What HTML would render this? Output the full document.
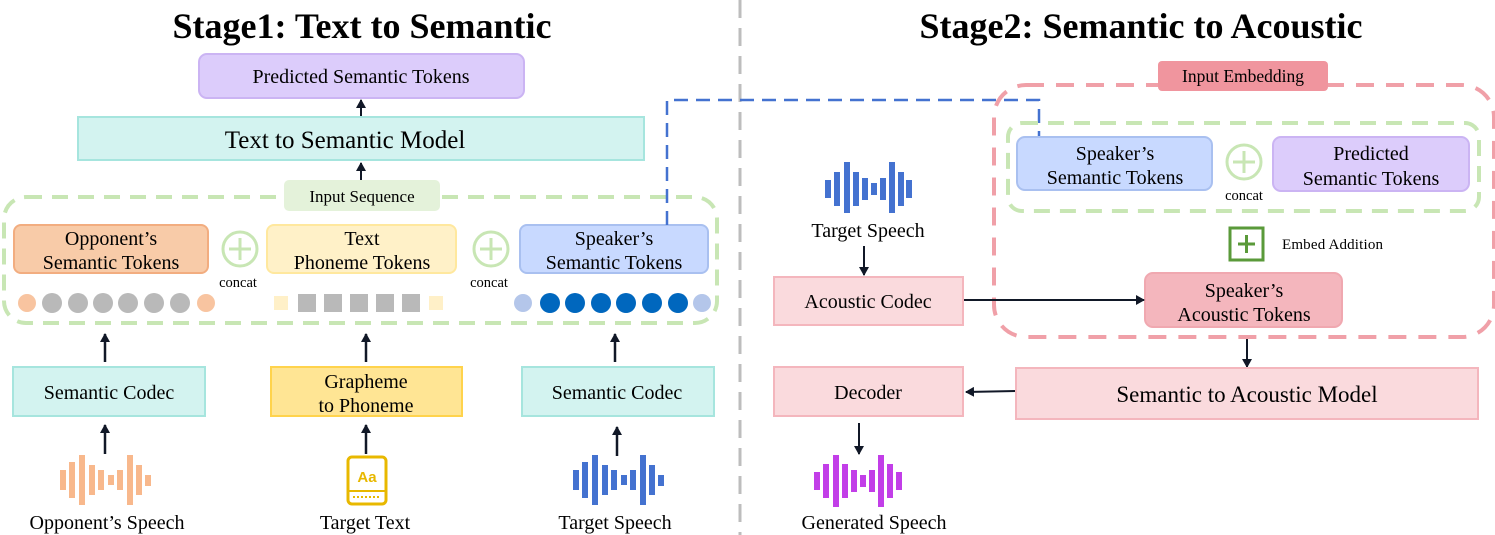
<!DOCTYPE html>
<html><head><meta charset="utf-8"><style>
html,body{margin:0;padding:0;background:#fff;}
svg{display:block;font-family:"Liberation Serif",serif;}
</style></head><body>
<svg width="1495" height="535" viewBox="0 0 1495 535" xmlns="http://www.w3.org/2000/svg">
<defs>
<marker id="ah" markerWidth="10" markerHeight="10" refX="8" refY="5" orient="auto" markerUnits="userSpaceOnUse">
<path d="M0,0 L9,5 L0,10 Z" fill="#111827"/></marker>
</defs>
<line x1="740" y1="0" x2="740" y2="535" stroke="#bdbdbd" stroke-width="3" stroke-dasharray="18,10"/>
<text x="362" y="38" font-size="36" font-weight="bold" text-anchor="middle">Stage1: Text to Semantic</text>
<text x="1141" y="38" font-size="36" font-weight="bold" text-anchor="middle">Stage2: Semantic to Acoustic</text>

<rect x="199" y="54" width="325" height="44" rx="8" fill="#dcccfb" stroke="#cbb4f3" stroke-width="2"/>
<text x="361" y="83" font-size="20" text-anchor="middle">Predicted Semantic Tokens</text>
<line x1="361" y1="116" x2="361" y2="100" stroke="#111827" stroke-width="2" marker-end="url(#ah)"/>
<rect x="78" y="117" width="566" height="43" fill="#d3f3f0" stroke="#a6e5de" stroke-width="2"/>
<text x="345" y="148" font-size="25" text-anchor="middle">Text to Semantic Model</text>
<line x1="361" y1="180" x2="361" y2="163" stroke="#111827" stroke-width="2" marker-end="url(#ah)"/>

<rect x="4" y="197" width="713" height="126" rx="22" fill="none" stroke="#c8e6b4" stroke-width="4" stroke-dasharray="16,10"/>
<rect x="284" y="180" width="156" height="31" rx="5" fill="#e4f2da"/>
<text x="362" y="202" font-size="17" text-anchor="middle">Input Sequence</text>

<rect x="14" y="225" width="194" height="48" rx="7" fill="#f8cba8" stroke="#f2ad80" stroke-width="2"/>
<text x="111" y="245" font-size="20" text-anchor="middle">Opponent’s</text>
<text x="111" y="269" font-size="20" text-anchor="middle">Semantic Tokens</text>
<rect x="267" y="225" width="189" height="48" rx="7" fill="#fff1c8" stroke="#ffe89e" stroke-width="2"/>
<text x="362" y="245" font-size="20" text-anchor="middle">Text</text>
<text x="362" y="269" font-size="20" text-anchor="middle">Phoneme Tokens</text>
<rect x="520" y="225" width="188" height="48" rx="7" fill="#c8d9ff" stroke="#a9c0f0" stroke-width="2"/>
<text x="614" y="245" font-size="20" text-anchor="middle">Speaker’s</text>
<text x="614" y="269" font-size="20" text-anchor="middle">Semantic Tokens</text>
<g stroke="#c8e6b4" stroke-width="3" fill="none">
<circle cx="240" cy="249" r="17"/><line x1="229" y1="249" x2="251" y2="249"/><line x1="240" y1="238" x2="240" y2="260"/>
<circle cx="491" cy="249" r="17"/><line x1="480" y1="249" x2="502" y2="249"/><line x1="491" y1="238" x2="491" y2="260"/>
</g>
<text x="238" y="287" font-size="14.5" text-anchor="middle">concat</text>
<text x="489" y="287" font-size="14.5" text-anchor="middle">concat</text>
<circle cx="27" cy="303" r="9" fill="#f8c4a0"/>
<g fill="#b9b9b9"><circle cx="52" cy="303" r="10"/><circle cx="78" cy="303" r="10"/><circle cx="103" cy="303" r="10"/><circle cx="128" cy="303" r="10"/><circle cx="154" cy="303" r="10"/><circle cx="180" cy="303" r="10"/></g>
<circle cx="206" cy="303" r="9" fill="#f8c4a0"/>
<rect x="274" y="296" width="14" height="14" fill="#fff0c8"/>
<g fill="#b9b9b9"><rect x="298" y="294" width="18" height="18"/><rect x="324" y="294" width="18" height="18"/><rect x="350" y="294" width="18" height="18"/><rect x="376" y="294" width="18" height="18"/><rect x="402" y="294" width="18" height="18"/></g>
<rect x="429" y="296" width="14" height="14" fill="#fff0c8"/>
<circle cx="523" cy="303" r="9" fill="#b4c6ea"/>
<g fill="#0067be"><circle cx="550" cy="303" r="10"/><circle cx="575" cy="303" r="10"/><circle cx="601" cy="303" r="10"/><circle cx="626" cy="303" r="10"/><circle cx="652" cy="303" r="10"/><circle cx="678" cy="303" r="10"/></g>
<circle cx="702" cy="303" r="9" fill="#b4c6ea"/>

<g stroke="#111827" stroke-width="2.5">
<line x1="105" y1="362" x2="105" y2="334" marker-end="url(#ah)"/>
<line x1="366" y1="362" x2="366" y2="334" marker-end="url(#ah)"/>
<line x1="615" y1="362" x2="615" y2="334" marker-end="url(#ah)"/>
<line x1="105" y1="454" x2="105" y2="425" marker-end="url(#ah)"/>
<line x1="366" y1="454" x2="366" y2="425" marker-end="url(#ah)"/>
<line x1="617" y1="456" x2="617" y2="427" marker-end="url(#ah)"/>
</g>
<rect x="13" y="367" width="192" height="49" fill="#d3f3f0" stroke="#a6e5de" stroke-width="2"/>
<text x="109" y="399" font-size="20" text-anchor="middle">Semantic Codec</text>
<rect x="271" y="367" width="191" height="49" fill="#ffe594" stroke="#ffd34c" stroke-width="2"/>
<text x="366" y="388" font-size="20" text-anchor="middle">Grapheme</text>
<text x="366" y="412" font-size="20" text-anchor="middle">to Phoneme</text>
<rect x="522" y="367" width="192" height="49" fill="#d3f3f0" stroke="#a6e5de" stroke-width="2"/>
<text x="617" y="399" font-size="20" text-anchor="middle">Semantic Codec</text>

<g fill="#f8b88c">
<rect x="60" y="470" width="6" height="20"/><rect x="69" y="462" width="6" height="36"/><rect x="79" y="455" width="6" height="50"/><rect x="89" y="465" width="6" height="30"/><rect x="98" y="470" width="6" height="20"/><rect x="108" y="475" width="6" height="10"/><rect x="117" y="470" width="6" height="20"/><rect x="127" y="455" width="6" height="50"/><rect x="136" y="465" width="6" height="30"/><rect x="145" y="475" width="6" height="11"/>
</g>
<g fill="#4472d0">
<rect x="573" y="470" width="6" height="20"/><rect x="582" y="462" width="6" height="36"/><rect x="592" y="455" width="6" height="50"/><rect x="602" y="465" width="6" height="30"/><rect x="611" y="470" width="6" height="20"/><rect x="621" y="475" width="6" height="10"/><rect x="630" y="470" width="6" height="20"/><rect x="640" y="455" width="6" height="50"/><rect x="649" y="465" width="6" height="30"/><rect x="658" y="475" width="6" height="11"/>
</g>
<rect x="348" y="457" width="38" height="47" rx="4" fill="none" stroke="#e8b800" stroke-width="3"/>
<line x1="348" y1="491" x2="386" y2="491" stroke="#e8b800" stroke-width="2"/>
<text x="367" y="482" font-size="15" font-family="Liberation Sans, sans-serif" fill="#e8b800" text-anchor="middle" font-weight="bold">Aa</text>
<line x1="353" y1="497" x2="381" y2="497" stroke="#e8b800" stroke-width="2" stroke-dasharray="2,2"/>

<text x="107" y="529" font-size="20" text-anchor="middle">Opponent’s Speech</text>
<text x="365" y="529" font-size="20" text-anchor="middle">Target Text</text>
<text x="615" y="529" font-size="20" text-anchor="middle">Target Speech</text>

<polyline points="667,225 667,100 1039,100 1039,137" fill="none" stroke="#4472d0" stroke-width="2.5" stroke-dasharray="14,8"/>

<rect x="994" y="85" width="500" height="252" rx="32" fill="none" stroke="#f0a0a8" stroke-width="4" stroke-dasharray="18,12"/>
<rect x="1158" y="61" width="170" height="30" rx="4" fill="#f0959e"/>
<text x="1243" y="82" font-size="17.5" text-anchor="middle">Input Embedding</text>
<rect x="1008" y="123" width="471" height="88" rx="14" fill="none" stroke="#c8e6b4" stroke-width="4" stroke-dasharray="16,10"/>
<rect x="1017" y="137" width="195" height="53" rx="8" fill="#c8d9ff" stroke="#a9c0f0" stroke-width="2"/>
<text x="1115" y="160" font-size="20" text-anchor="middle">Speaker’s</text>
<text x="1115" y="184" font-size="20" text-anchor="middle">Semantic Tokens</text>
<g stroke="#c8e6b4" stroke-width="3" fill="none">
<circle cx="1244" cy="162" r="17"/><line x1="1233" y1="162" x2="1255" y2="162"/><line x1="1244" y1="151" x2="1244" y2="173"/>
</g>
<text x="1244" y="200" font-size="14.5" text-anchor="middle">concat</text>
<rect x="1273" y="137" width="196" height="54" rx="8" fill="#dcccfb" stroke="#cbb4f3" stroke-width="2"/>
<text x="1371" y="160" font-size="20" text-anchor="middle">Predicted</text>
<text x="1371" y="185" font-size="20" text-anchor="middle">Semantic Tokens</text>
<rect x="1230" y="228" width="33" height="32" fill="none" stroke="#5a9a3a" stroke-width="3"/>
<line x1="1238" y1="244" x2="1255" y2="244" stroke="#5a9a3a" stroke-width="3"/>
<line x1="1246.5" y1="235" x2="1246.5" y2="253" stroke="#5a9a3a" stroke-width="3"/>
<text x="1282" y="249" font-size="15" textLength="101">Embed Addition</text>
<rect x="1145" y="273" width="197" height="54" rx="8" fill="#f4b6bd" stroke="#f0a8b0" stroke-width="2"/>
<text x="1244" y="297" font-size="20" text-anchor="middle">Speaker’s</text>
<text x="1244" y="321" font-size="20" text-anchor="middle">Acoustic Tokens</text>

<g fill="#4472d0">
<rect x="825" y="180" width="6" height="18"/><rect x="834" y="172" width="6" height="34"/><rect x="844" y="162" width="6" height="51"/><rect x="853" y="172" width="6" height="34"/><rect x="862" y="178" width="6" height="22"/><rect x="871" y="183" width="6" height="12"/><rect x="880" y="178" width="6" height="22"/><rect x="889" y="162" width="6" height="51"/><rect x="898" y="172" width="6" height="34"/><rect x="906" y="180" width="6" height="18"/>
</g>
<text x="868" y="237" font-size="20" text-anchor="middle">Target Speech</text>
<g stroke="#111827" stroke-width="2">
<line x1="864" y1="246" x2="864" y2="275" marker-end="url(#ah)"/>
<line x1="963" y1="300" x2="1144" y2="300" marker-end="url(#ah)"/>
<line x1="1247" y1="339" x2="1247" y2="367" marker-end="url(#ah)"/>
<line x1="1016" y1="391" x2="966" y2="392" marker-end="url(#ah)"/>
<line x1="859" y1="423" x2="859" y2="454" marker-end="url(#ah)"/>
</g>
<rect x="774" y="277" width="189" height="48" fill="#fadadd" stroke="#f4b6bd" stroke-width="2"/>
<text x="868" y="308" font-size="20" text-anchor="middle">Acoustic Codec</text>
<rect x="774" y="367" width="189" height="49" fill="#fadadd" stroke="#f4b6bd" stroke-width="2"/>
<text x="868" y="399" font-size="20" text-anchor="middle">Decoder</text>
<rect x="1016" y="368" width="462" height="51" fill="#fadadd" stroke="#f4b6bd" stroke-width="2"/>
<text x="1247" y="402" font-size="23" text-anchor="middle">Semantic to Acoustic Model</text>

<g fill="#c23ee8">
<rect x="814" y="472" width="6" height="18"/><rect x="823" y="464" width="6" height="34"/><rect x="833" y="455" width="6" height="52"/><rect x="842" y="464" width="6" height="34"/><rect x="851" y="470" width="6" height="22"/><rect x="860" y="475" width="6" height="12"/><rect x="869" y="470" width="6" height="22"/><rect x="878" y="455" width="6" height="52"/><rect x="887" y="464" width="6" height="34"/><rect x="896" y="472" width="6" height="18"/>
</g>
<text x="874" y="529" font-size="20" text-anchor="middle">Generated Speech</text>
</svg>
</body></html>
